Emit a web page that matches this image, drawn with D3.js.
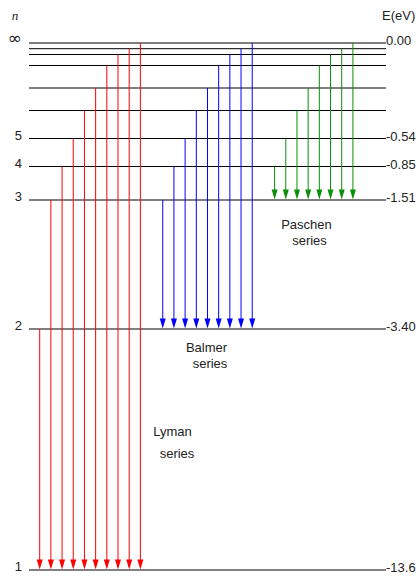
<!DOCTYPE html>
<html>
<head>
<meta charset="utf-8">
<script src="https://d3js.org/d3.v7.min.js"></script>
<style>
  body { margin: 0; background: #fff; }
  svg { display: block; font-family: "Liberation Sans", Arial, sans-serif; font-size: 13px; fill: #222; }
</style>
</head>
<body>
<svg></svg>
<script>
// hydrogen energy levels, lowest first
const levels = [1, 2, 3, 4, 5, 6, 7, 8, 9, 10, Infinity];
const energies = [-13.6, -3.40, -1.51, -0.85, -0.54, -0.378, -0.278, -0.213, -0.168, -0.136, 0];
const nLabels = ["1", "2", "3", "4", "5", "", "", "", "", "", "\u221e"];
const eLabels = ["-13.6", "-3.40", "-1.51", "-0.85", "-0.54", "", "", "", "", "", "0.00"];

// spectral series: name and the level they fall to
const seriesNames = ["Lyman", "Balmer", "Paschen"];
const seriesLower = [1, 2, 3];
const seriesColors = ["#ff0000", "#0000ff", "#0a900a"];

const width = 420, height = 578;
const svg = d3.select("svg").attr("width", width).attr("height", height);

// schematic (not to scale) vertical placement of each level
const y = d3.scaleLinear()
  .domain(energies)
  .range([570, 329, 200, 166.5, 138.5, 110.5, 88, 65.5, 54.5, 48.7, 43]);

// build transitions, one slot per arrow, an empty slot between series
const transitions = [];
let slot = 0;
seriesNames.forEach((name, s) => {
  const lo = levels.indexOf(seriesLower[s]);
  for (let j = lo + 1; j < levels.length; j++) {
    transitions.push({ series: name, from: energies[j], to: energies[lo], slot: slot++ });
  }
  slot++;
});

const x = d3.scaleLinear().domain([0, 28]).range([39.7, 352.9]);
const color = d3.scaleOrdinal().domain(seriesNames).range(seriesColors);

const lineX0 = 29, lineX1 = 386;

// level lines
svg.append("g")
  .selectAll("line")
  .data(energies)
  .join("line")
    .attr("x1", lineX0)
    .attr("x2", lineX1)
    .attr("y1", d => y(d))
    .attr("y2", d => y(d))
    .attr("stroke", "#000")
    .attr("stroke-width", 1);

// left n labels
svg.append("g")
  .selectAll("text")
  .data(energies.map((e, i) => ({ e, t: nLabels[i] })).filter(d => d.t))
  .join("text")
    .attr("x", 22)
    .attr("y", d => y(d.e) + 1)
    .attr("text-anchor", "end")
    .style("font-family", d => d.t === "\u221e" ? "'DejaVu Sans', sans-serif" : null)
    .style("font-size", d => d.t === "\u221e" ? "17px" : null)
    .text(d => d.t);

// right energy labels
svg.append("g")
  .selectAll("text")
  .data(energies.map((e, i) => ({ e, t: eLabels[i] })).filter(d => d.t))
  .join("text")
    .attr("x", 386)
    .attr("y", d => y(d.e) + 2)
    .text(d => d.t);

svg.append("text")
  .attr("x", 15).attr("y", 20)
  .attr("text-anchor", "middle")
  .style("font-family", "'Liberation Serif', serif")
  .style("font-style", "italic")
  .style("font-size", "13px")
  .text("n");

svg.append("text")
  .attr("x", 382).attr("y", 20)
  .text("E(eV)");

// arrows
const headLen = 10, headW = 3;
const arrows = svg.append("g")
  .selectAll("g")
  .data(transitions)
  .join("g");

arrows.append("line")
  .attr("x1", d => x(d.slot))
  .attr("x2", d => x(d.slot))
  .attr("y1", d => y(d.from))
  .attr("y2", d => y(d.to) - headLen + 1)
  .attr("stroke", d => color(d.series))
  .attr("stroke-width", 1);

arrows.append("path")
  .attr("d", d => {
    const cx = x(d.slot), ty = y(d.to) - 0.5;
    return `M${cx},${ty}L${cx - headW},${ty - headLen}L${cx + headW},${ty - headLen}Z`;
  })
  .attr("fill", d => color(d.series));

// series names
const seriesText = [
  { name: "Paschen", lines: [[306.5, 229], [309.5, 245]] },
  { name: "Balmer", lines: [[206.5, 352], [210, 368]] },
  { name: "Lyman", lines: [[172.5, 436], [177, 458]] }
];
seriesText.forEach(s => {
  svg.append("text")
    .attr("x", s.lines[0][0]).attr("y", s.lines[0][1])
    .attr("text-anchor", "middle")
    .text(s.name);
  svg.append("text")
    .attr("x", s.lines[1][0]).attr("y", s.lines[1][1])
    .attr("text-anchor", "middle")
    .text("series");
});
</script>
</body>
</html>
